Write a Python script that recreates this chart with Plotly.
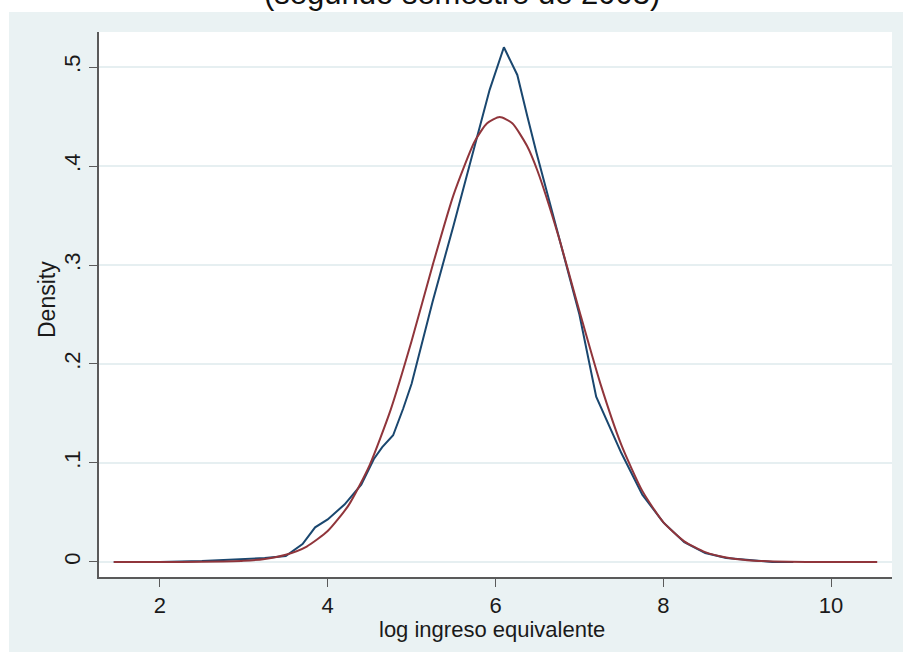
import plotly.graph_objects as go

# ---- data ----
x_kd = [1.45, 2.0, 2.5, 3.0, 3.25, 3.5, 3.7, 3.85, 4.0, 4.2, 4.4, 4.55, 4.65, 4.78,
        4.9, 5.0, 5.25, 5.5, 5.75, 5.93, 6.1, 6.26, 6.38, 6.49, 6.75, 7.0, 7.2, 7.5,
        7.75, 8.0, 8.25, 8.5, 8.75, 9.0, 9.3, 9.55]
y_kd = [0.0, 0.0, 0.001, 0.003, 0.004, 0.006, 0.018, 0.035, 0.043, 0.058, 0.078, 0.104,
        0.116, 0.128, 0.155, 0.180, 0.263, 0.340, 0.420, 0.477, 0.520, 0.492, 0.450,
        0.413, 0.330, 0.250, 0.167, 0.110, 0.068, 0.040, 0.020, 0.009, 0.004, 0.002,
        0.0, 0.0]

x_norm = [1.45, 2.0, 2.5, 3.0, 3.25, 3.5, 3.75, 4.0, 4.25, 4.5, 4.75, 5.0, 5.25, 5.5,
          5.75, 5.9, 6.05, 6.2, 6.375, 6.5, 6.75, 7.0, 7.25, 7.5, 7.75, 8.0,
          8.25, 8.5, 8.75, 9.0, 9.5, 10.0, 10.55]
y_norm = [0.0, 0.0, 0.0002, 0.0012, 0.0031, 0.0073, 0.0156, 0.0312, 0.0574, 0.0979,
          0.1537, 0.2232, 0.2995, 0.3709, 0.4246, 0.4432, 0.4495, 0.4432,
          0.4204, 0.3952, 0.3293, 0.2535, 0.1802, 0.1183, 0.0718, 0.0402, 0.0208,
          0.0099, 0.0044, 0.0018, 0.0002, 0.0, 0.0]

x_ticks = [2, 4, 6, 8, 10]
x_ticktext = ["2", "4", "6", "8", "10"]
y_ticks = [0, 0.1, 0.2, 0.3, 0.4, 0.5]
y_ticktext = ["0", ".1", ".2", ".3", ".4", ".5"]

title_text = "(segundo semestre de 2003)"
x_title = "log ingreso equivalente"
y_title = "Density"

# ---- figure ----
W, H = 903, 660
L, R, T, B = 99, 11, 32, 83
pw, ph = W - L - R, H - T - B

def px2paper_x(p):
    return (p - L) / pw

def px2paper_y(p):
    return (H - B - p) / ph

FONT = "Arial, Liberation Sans, sans-serif"
BG = "#EAF2F3"
TXT = "#1a1a1a"

fig = go.Figure()
fig.add_trace(go.Scatter(x=x_kd, y=y_kd, mode="lines",
                         line=dict(color="#1a476f", width=2), showlegend=False))
fig.add_trace(go.Scatter(x=x_norm, y=y_norm, mode="lines",
                         line=dict(color="#90353b", width=2, shape="spline", smoothing=0.6),
                         showlegend=False))

fig.update_layout(
    width=W, height=H,
    margin=dict(l=L, r=R, t=T, b=B),
    paper_bgcolor="white",
    plot_bgcolor="white",
    font=dict(family=FONT, color=TXT, size=22),
    shapes=[
        dict(type="rect", xref="paper", yref="paper", layer="below",
             x0=px2paper_x(9), x1=px2paper_x(903), y0=px2paper_y(652), y1=px2paper_y(12),
             fillcolor=BG, line=dict(width=0)),
        dict(type="rect", xref="paper", yref="paper", layer="below",
             x0=0, x1=1, y0=0, y1=1, fillcolor="white", line=dict(width=0)),
    ],
    xaxis=dict(range=[1.274, 10.726], tickvals=x_ticks, ticktext=x_ticktext,
               showgrid=False, zeroline=False, showline=True, linecolor="#5a5a5a",
               linewidth=1.5, ticks="outside", ticklen=8, tickcolor="#5a5a5a",
               tickfont=dict(size=22, family=FONT, color=TXT)),
    yaxis=dict(range=[-0.0152, 0.5354], tickvals=y_ticks, ticktext=y_ticktext,
               showgrid=True, gridcolor="#E6EFF1", gridwidth=1.5, zeroline=False,
               showline=True, linecolor="#5a5a5a", linewidth=1.5, ticks="outside",
               ticklen=8, tickcolor="#5a5a5a", tickangle=-90,
               tickfont=dict(size=22, family=FONT, color=TXT)),
    annotations=[
        dict(text=title_text, xref="paper", yref="paper", x=px2paper_x(462),
             y=px2paper_y(13), xanchor="center", yanchor="bottom", showarrow=False,
             font=dict(size=31, family=FONT, color="#111111")),
        dict(text=x_title, xref="paper", yref="paper", x=px2paper_x(492),
             y=px2paper_y(629), xanchor="center", yanchor="middle", showarrow=False,
             font=dict(size=22, family=FONT, color=TXT)),
        dict(text=y_title, xref="paper", yref="paper", x=px2paper_x(47),
             y=px2paper_y(300), xanchor="center", yanchor="middle", showarrow=False,
             textangle=-90, font=dict(size=23, family=FONT, color=TXT)),
    ],
)

fig.write_html("out.html")
